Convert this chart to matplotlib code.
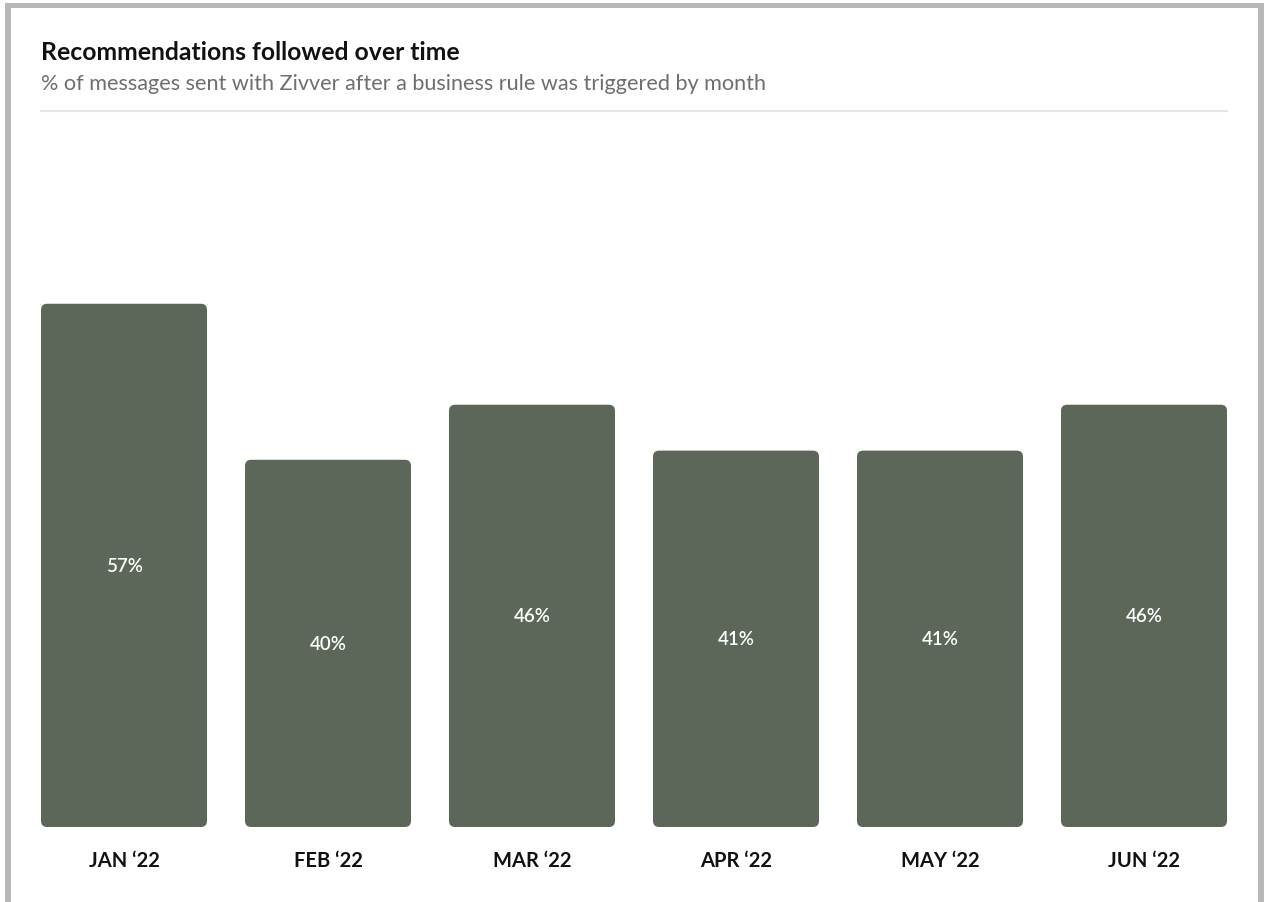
import matplotlib
matplotlib.use("Agg")
import matplotlib.pyplot as plt
from matplotlib.patches import FancyBboxPatch, Rectangle
from matplotlib.lines import Line2D

MONTHS = ["JAN \u201822", "FEB \u201822", "MAR \u201822", "APR \u201822", "MAY \u201822", "JUN \u201822"]
PCT = [57, 40, 46, 41, 41, 46]

TITLE = "Recommendations followed over time"
SUBTITLE = "% of messages sent with Zivver after a business rule was triggered by month"

BAR_COLOR = "#5c6759"
W, H = 1264, 903

plt.rcParams["font.family"] = ["Lato", "DejaVu Sans"]

fig = plt.figure(figsize=(W / 100, H / 100), dpi=100)
fig.patch.set_facecolor("white")


def fx(px):
    return px / W


def fy(py):
    return 1 - py / H


# grey frame (top, left, right; open at the bottom)
fig.patches.append(Rectangle((fx(5), fy(9)), fx(1257), fy(4) - fy(9), transform=fig.transFigure,
                             facecolor="#b8b8b8", edgecolor="none"))
fig.patches.append(Rectangle((fx(5), 0), fx(6), fy(4), transform=fig.transFigure,
                             facecolor="#b8b8b8", edgecolor="none"))
fig.patches.append(Rectangle((fx(1258), 0), fx(6), fy(4), transform=fig.transFigure,
                             facecolor="#b8b8b8", edgecolor="none"))

fig.text(fx(41), fy(52), TITLE, fontsize=17.8, fontweight="bold", color="#111111",
         ha="left", va="center")
fig.text(fx(41), fy(84), SUBTITLE, fontsize=15.6, color="#6e6e6e", ha="left", va="center")
fig.lines.append(Line2D([fx(41), fx(1227)], [fy(112), fy(112)], transform=fig.transFigure,
                        color="#e6e6ea", lw=1.5))

# axes: bottom of bars at y=828, bars from x=41 to 1227
ax_top, ax_bot = 130, 828
ax = fig.add_axes([fx(41), fy(ax_bot), fx(1227) - fx(41), fy(ax_top) - fy(ax_bot)])
bw = 166 / 204
ax.set_xlim(-bw / 2, len(PCT) - 1 + bw / 2)
px_per_pct = 9.18
ax.set_ylim(0, (ax_bot - ax_top) / px_per_pct)
ax.axis("off")

aspect = (1 / px_per_pct) / (1 / 204)
for i, v in enumerate(PCT):
    bar = FancyBboxPatch((i - bw / 2, 0), bw, v,
                         boxstyle="round,pad=0,rounding_size=0.03",
                         mutation_aspect=aspect, facecolor=BAR_COLOR, edgecolor="none")
    ax.add_patch(bar)
    ax.text(i, v / 2, "%d%%" % v, ha="center", va="center", color="white",
            fontsize=13.5, fontweight="semibold")
    ax.text(i, -33 / px_per_pct, MONTHS[i], ha="center", va="center", color="#111111",
            fontsize=14.5, fontweight="bold", clip_on=False)

fig.savefig("out.png", dpi=100)
